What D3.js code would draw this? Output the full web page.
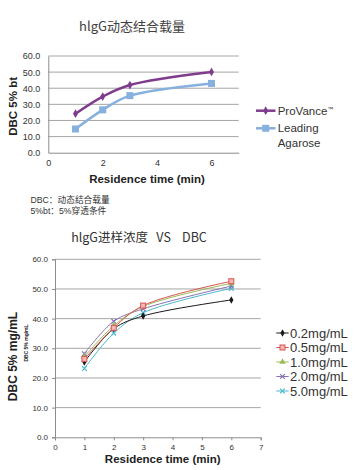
<!DOCTYPE html>
<html><head><meta charset="utf-8">
<script src="https://cdn.jsdelivr.net/npm/d3@7"></script>
<style>
body{margin:0;background:#fff;}
svg{display:block;font-family:"Liberation Sans",Arial,sans-serif;}
</style></head>
<body><svg id="c" width="356" height="470"></svg>
<script>
// ---- data: chart 1 ----
const times1 = [1, 2, 3, 6];
const provance = [24.2, 34.8, 42.0, 50.1];
const agarose = [14.7, 26.6, 35.4, 43.0];
const series1Names = ["ProVance", "Leading", "Agarose"];
const xTicks1 = [0, 2, 4, 6];
const yTicks = [0, 10, 20, 30, 40, 50, 60];
const notes = ["DBC：动态结合载量", "5%bt：5%穿透条件"];

// ---- data: chart 2 ----
const times2 = [1, 2, 3, 6];
const conc02 = [25.4, 36.6, 40.9, 46.3];
const conc05 = [26.4, 36.9, 44.4, 52.6];
const conc10 = [27.2, 37.6, 44.1, 51.9];
const conc20 = [28.2, 39.1, 43.3, 51.0];
const conc50 = [23.2, 35.1, 42.0, 50.2];
const concLabels = ["0.2mg/mL", "0.5mg/mL", "1.0mg/mL", "2.0mg/mL", "5.0mg/mL"];
const xTicks2 = [0, 1, 2, 3, 4, 5, 6, 7];

const svg = d3.select("#c");
const cjk = '"Noto Sans CJK SC","Liberation Sans",sans-serif';

// ================= Chart 1 =================
const x1 = d3.scaleLinear().domain([0, 7]).range([48.3, 238.7]);
const y1 = d3.scaleLinear().domain([0, 60]).range([152.7, 56]);

svg.append("text").attr("x", 132).attr("y", 31).attr("text-anchor", "middle")
  .style("font-family", cjk).style("font-size", "13px").attr("fill", "#404040")
  .text("hlgG动态结合载量");

const g1 = svg.append("g");
g1.selectAll("line.grid").data(yTicks.filter(d => d > 0)).join("line")
  .attr("x1", x1(0)).attr("x2", x1(7)).attr("y1", d => y1(d)).attr("y2", d => y1(d))
  .attr("stroke", "#a6a6a6").attr("stroke-width", 1);

const ax1 = g1.append("g").attr("transform", `translate(0,${y1(0)})`)
  .call(d3.axisBottom(x1).tickValues(xTicks1).tickSize(0).tickPadding(7).tickFormat(d3.format("d")));
const ay1 = g1.append("g").attr("transform", `translate(${x1(0)},0)`)
  .call(d3.axisLeft(y1).tickValues(yTicks).tickSize(0).tickPadding(8).tickFormat(d3.format(".1f")));
[ax1, ay1].forEach(a => {
  a.select(".domain").attr("stroke", "#8c8c8c");
  a.selectAll("text").style("font-size", "9px").attr("fill", "#333");
});

svg.append("text").attr("transform", `translate(17,${(y1(0) + y1(60)) / 2 + 2}) rotate(-90)`)
  .attr("text-anchor", "middle").style("font-size", "11.5px").style("font-weight", "bold").attr("fill", "#222")
  .text("DBC 5% bt");
svg.append("text").attr("x", 147).attr("y", 183).attr("text-anchor", "middle")
  .style("font-size", "11.5px").style("font-weight", "bold").attr("fill", "#222")
  .text("Residence time (min)");

const line1 = d3.line().x((d, i) => x1(times1[i])).y(d => y1(d)).curve(d3.curveCatmullRom.alpha(0.5));
const purple = "#7f3c8d", lblue = "#86b0de";
g1.append("path").datum(agarose).attr("d", line1).attr("fill", "none").attr("stroke", lblue).attr("stroke-width", 2.5);
g1.append("path").datum(provance).attr("d", line1).attr("fill", "none").attr("stroke", purple).attr("stroke-width", 2.5);
g1.selectAll("rect.m").data(agarose).join("rect")
  .attr("x", (d, i) => x1(times1[i]) - 3.5).attr("y", d => y1(d) - 3.5).attr("width", 7).attr("height", 7).attr("fill", lblue);
const diamond = d3.symbol().type(d3.symbolDiamond).size(22);
g1.selectAll("path.pm").data(provance).join("path")
  .attr("d", diamond).attr("transform", (d, i) => `translate(${x1(times1[i])},${y1(d)})`).attr("fill", purple);

// legend 1
const lg1 = svg.append("g").style("font-size", "11.5px").attr("fill", "#333");
lg1.append("line").attr("x1", 256).attr("x2", 275.5).attr("y1", 110.7).attr("y2", 110.7).attr("stroke", purple).attr("stroke-width", 2.5);
lg1.append("path").attr("d", diamond).attr("transform", "translate(265.7,110.7)").attr("fill", purple);
lg1.append("text").attr("x", 277.7).attr("y", 114.7).text(series1Names[0]).append("tspan")
  .attr("dy", -4).style("font-size", "6px").text("™");
lg1.append("line").attr("x1", 256).attr("x2", 275.5).attr("y1", 128.3).attr("y2", 128.3).attr("stroke", lblue).attr("stroke-width", 2.5);
lg1.append("rect").attr("x", 262.2).attr("y", 124.8).attr("width", 7).attr("height", 7).attr("fill", lblue);
lg1.append("text").attr("x", 277.7).attr("y", 132.3).text(series1Names[1]);
lg1.append("text").attr("x", 277.7).attr("y", 147.3).text(series1Names[2]);

// notes
svg.selectAll("text.note").data(notes).join("text").attr("class", "note")
  .attr("x", 30.5).attr("y", (d, i) => 203 + i * 11)
  .style("font-family", '"Liberation Sans","Noto Sans CJK SC",sans-serif')
  .style("font-size", "8.7px").attr("fill", "#333").text(d => d);

// ================= Chart 2 =================
const x2 = d3.scaleLinear().domain([0, 7]).range([55, 260.7]);
const y2 = d3.scaleLinear().domain([0, 60]).range([437.3, 259.3]);

svg.append("text").attr("x", 139).attr("y", 242).attr("text-anchor", "middle")
  .style("font-family", cjk).style("font-size", "12.5px").attr("fill", "#333")
  .attr("xml:space", "preserve").style("white-space", "pre")
  .text("hlgG进样浓度   VS    DBC");

const g2 = svg.append("g");
g2.selectAll("line.grid").data(yTicks.filter(d => d > 0)).join("line")
  .attr("x1", x2(0)).attr("x2", x2(7)).attr("y1", d => y2(d)).attr("y2", d => y2(d))
  .attr("stroke", "#a6a6a6").attr("stroke-width", 1);
const ax2 = g2.append("g").attr("transform", `translate(0,${y2(0)})`)
  .call(d3.axisBottom(x2).tickValues(xTicks2).tickSize(3).tickPadding(4).tickFormat(d3.format("d")));
const ay2 = g2.append("g").attr("transform", `translate(${x2(0)},0)`)
  .call(d3.axisLeft(y2).tickValues(yTicks).tickSize(3).tickPadding(4).tickFormat(d3.format(".1f")));
[ax2, ay2].forEach(a => {
  a.select(".domain").attr("stroke", "#8c8c8c");
  a.selectAll(".tick line").attr("stroke", "#8c8c8c");
  a.selectAll("text").style("font-size", "8px").attr("fill", "#333");
});

svg.append("text").attr("transform", `translate(17,356.5) rotate(-90)`)
  .attr("text-anchor", "middle").style("font-size", "12px").style("font-weight", "bold").attr("fill", "#222")
  .text("DBC 5% mg/mL");
svg.append("text").attr("transform", `translate(28,343) rotate(-90)`)
  .attr("text-anchor", "middle").style("font-size", "5px").style("font-weight", "bold").attr("fill", "#222")
  .text("DBC 5% mg/mL");
svg.append("text").attr("x", 162.7).attr("y", 463).attr("text-anchor", "middle")
  .style("font-size", "11.5px").style("font-weight", "bold").attr("fill", "#222")
  .text("Residence time (min)");

const series2 = [conc02, conc05, conc10, conc20, conc50];
const colors2 = ["#1a1a1a", "#d9534f", "#9bbb59", "#8a72b0", "#4bb8d0"];
const markers2 = ["diamond", "square", "triangle", "x", "x"];
const line2 = d3.line().x((d, i) => x2(times2[i])).y(d => y2(d)).curve(d3.curveCatmullRom.alpha(0.5));

function marker(sel, type, color, cx, cy) {
  if (type === "diamond") {
    sel.append("path").attr("d", d3.symbol().type(d3.symbolDiamond).size(16)).attr("transform", `translate(${cx},${cy})`).attr("fill", color);
  } else if (type === "square") {
    sel.append("rect").attr("x", cx - 2.5).attr("y", cy - 2.5).attr("width", 5).attr("height", 5).attr("fill", "#f2b8b5").attr("stroke", color).attr("stroke-width", 1);
  } else if (type === "triangle") {
    sel.append("path").attr("d", d3.symbol().type(d3.symbolTriangle).size(18)).attr("transform", `translate(${cx},${cy})`).attr("fill", color);
  } else {
    sel.append("path").attr("d", d3.symbol().type(d3.symbolX).size(16)).attr("transform", `translate(${cx},${cy})`).attr("fill", "none").attr("stroke", color).attr("stroke-width", 1.2);
  }
}

// draw order: back to front
[4, 3, 0, 2, 1].forEach(k => {
  g2.append("path").datum(series2[k]).attr("d", line2).attr("fill", "none").attr("stroke", colors2[k]).attr("stroke-width", 1);
});
[4, 3, 0, 2, 1].forEach(k => {
  series2[k].forEach((v, i) => marker(g2, markers2[k], colors2[k], x2(times2[i]), y2(v)));
});

// legend 2
const lg2 = svg.append("g");
concLabels.forEach((lab, k) => {
  const yy = 333 + k * 14.5;
  lg2.append("line").attr("x1", 276.3).attr("x2", 288.7).attr("y1", yy).attr("y2", yy).attr("stroke", colors2[k]).attr("stroke-width", 1);
  marker(lg2, markers2[k], colors2[k], 282.5, yy);
  lg2.append("text").attr("x", 290).attr("y", yy + 4.5).style("font-size", "13px").attr("fill", "#333").text(lab);
});
</script></body></html>
